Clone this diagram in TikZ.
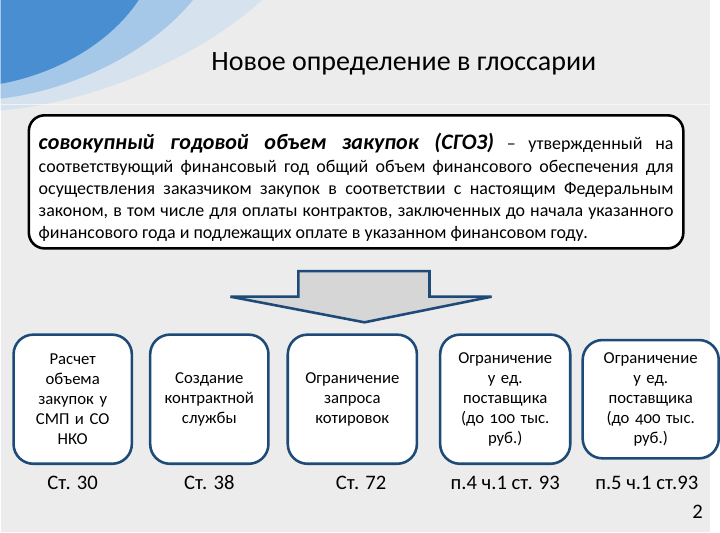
\documentclass[tikz,border=0pt]{standalone}
\usepackage{fontspec}
\setmainfont{Carlito}
\usetikzlibrary{positioning}
\definecolor{slideGray}{RGB}{236,236,236}
\definecolor{swoopBlue}{RGB}{74,142,210}
\definecolor{swoopMid}{RGB}{166,200,232}
\definecolor{swoopLight}{RGB}{214,226,238}
\definecolor{frameBlue}{RGB}{30,74,120}
\definecolor{arrowGray}{RGB}{214,214,214}

\begin{document}
\begin{tikzpicture}[x=1bp, y=-1bp,
            defbox/.style={draw=black, line width=2.6bp, fill=white, rounded corners=16bp, text width=644bp, minimum height=135bp, align=justify, inner xsep=10bp, inner ysep=6bp, font=\fontsize{18.3}{22.5}\selectfont},
            card/.style={draw=frameBlue, line width=2.6bp, fill=white, rounded corners=20bp, minimum width=120bp, minimum height=131bp, text width=112bp, align=center, inner sep=0pt, font=\fontsize{17}{20.5}\selectfont},
            article/.style={font=\fontsize{21}{24}\selectfont, inner sep=2bp, text height=15bp, text depth=4bp},
            blockarrow/.style={draw=frameBlue, line width=2.6bp, fill=arrowGray, line join=miter}
        ]
            % background and corner swoosh
            \fill[slideGray] (0,0) rectangle (720,540);
            \fill[swoopLight] (0,0) -- (265,0) .. controls (200,60) and (90,105) .. (0,112) -- cycle;
            \fill[swoopMid] (0,0) -- (195,0) .. controls (150,55) and (70,92) .. (0,100) -- cycle;
            \fill[swoopBlue] (0,0) -- (140,0) .. controls (110,45) and (55,75) .. (0,85) -- cycle;
            \draw[white, opacity=0.6, line width=1.5bp] (0,106) -- (720,106);

            \node (title) [font=\fontsize{28.5}{32}\selectfont] at (409,65) {Новое определение в глоссарии};

            \node (def) [defbox] at (360.5,184.5) {\hyphenpenalty=10000
                \rule{0pt}{28bp}{\fontsize{22.5}{25}\selectfont\bfseries\itshape совокупный годовой объем закупок (СГОЗ)} – утвержденный на\linebreak
                соответствующий финансовый год общий объем финансового обеспечения для\linebreak
                осуществления заказчиком закупок в соответствии с настоящим Федеральным\linebreak
                законом, в том числе для оплаты контрактов, заключенных до начала указанного\linebreak
                финансового года и подлежащих оплате в указанном финансовом году.};

            \draw [blockarrow] (302,275) -- (435,275) -- (435,301) -- (498,301) -- (369,327) -- (233,301) -- (302,301) -- cycle;

            \node (calc) [card] at (73,405) {Расчет\\ объема\\ закупок у\\ СМП и СО\\ НКО};
            \node (service) [card, right=16bp of calc] {Создание\\ контрактной\\ службы};
            \node (quotes) [card, right=17bp of service, minimum width=131bp] {Ограничение\\ запроса\\ котировок};
            \node (single) [card, right=21bp of quotes, minimum width=132bp] {Ограничение\\ у ед.\\ поставщика\\ ({\addfontfeature{Numbers=OldStyle}до 100 тыс.}\\ руб.)};
            \node (singlebig) [card, right=10bp of single, minimum width=138bp, minimum height=120bp] {Ограничение\\ у ед.\\ поставщика\\ ({\addfontfeature{Numbers=OldStyle}до 400 тыс.}\\ руб.)};

            \node (art30) [article, below=8bp of calc] {Ст. 30};
            \node (art38) [article, below=8bp of service] {Ст. 38};
            \node (art72) [article, below=8bp of quotes, xshift=9bp] {Ст. 72};
            \node (art93a) [article, below=8bp of single] {п.4 ч.1 ст. 93};
            \node (art93b) [article, xshift=-4bp] at (singlebig |- art93a) {п.5 ч.1 ст.93};

            \node (page) [font=\fontsize{21}{24}\selectfont] at (707,519) {2};
        \end{tikzpicture}
\end{document}
